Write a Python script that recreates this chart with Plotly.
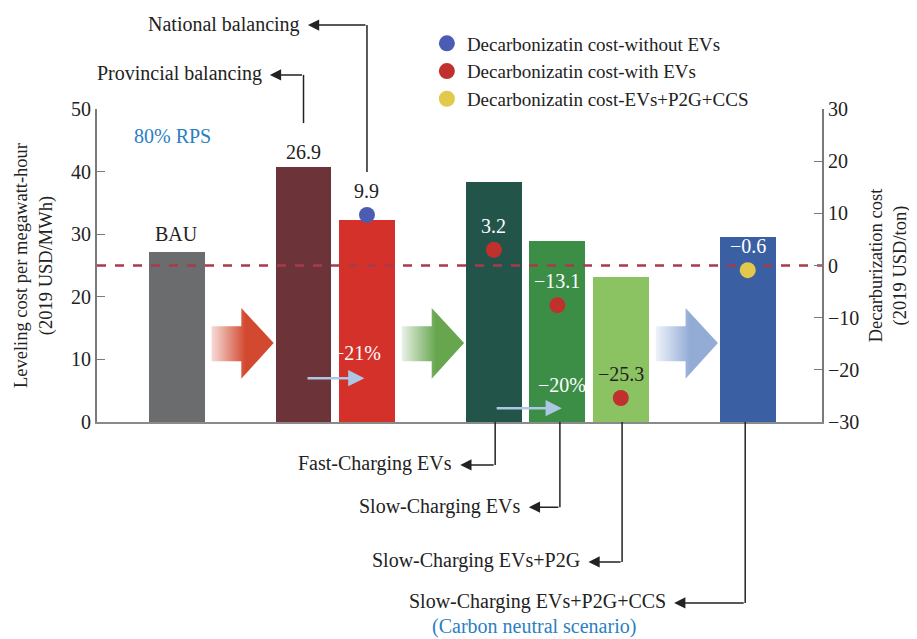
import plotly.graph_objects as go

# ---------------- data ----------------
scenario_groups = [
    ["BAU"],
    ["Provincial balancing", "National balancing"],
    ["Fast-Charging EVs", "Slow-Charging EVs", "Slow-Charging EVs+P2G"],
    ["Slow-Charging EVs+P2G+CCS"],
]
levelized_cost = [27.2, 40.7, 32.3, 38.3, 28.9, 23.2, 29.5]   # 2019 USD/MWh
bar_colors = ["#6b6c6e", "#6c3439", "#d5312b", "#22544a", "#3c8d46", "#8bc262", "#3a5fa2"]

dot_scenarios = ["National balancing", "Fast-Charging EVs", "Slow-Charging EVs",
                 "Slow-Charging EVs+P2G", "Slow-Charging EVs+P2G+CCS"]
dot_values = [9.7, 3.0, -7.6, -25.4, -0.9]                     # 2019 USD/ton
dot_labels = ["9.9", "3.2", "−13.1", "−25.3", "−0.6"]
dot_label_colors = ["#222222", "white", "white", "#222222", "white"]
dot_series = ["without", "with", "with", "with", "ccs"]
series_names = {
    "without": "Decarbonizatin cost-without EVs",
    "with": "Decarbonizatin cost-with EVs",
    "ccs": "Decarbonizatin cost-EVs+P2G+CCS",
}
series_colors = {"without": "#4a5db3", "with": "#c0312d", "ccs": "#e2c94b"}

provincial_label = "26.9"
reduction_labels = ["−21%", "−20%"]

# ---------------- slot layout (one empty slot between groups) ----------------
bar_names, slots, gap_slots = [], [], []
pos = 0
for gi, grp in enumerate(scenario_groups):
    for name in grp:
        bar_names.append(name)
        slots.append(pos)
        pos += 1
    if gi < len(scenario_groups) - 1:
        gap_slots.append(pos)
        pos += 1
slot_of = dict(zip(bar_names, slots))

X_RANGE = [-1.254, 10.17]
FONT = "Liberation Serif"
TXT = "#222222"
FS = 20

fig = go.Figure()

# gradient arrows between groups
arrow_fills = [("#f6dcd8", "#d2492f"), ("#e9f1e7", "#67a64e"), ("#eff3fa", "#93acd6")]
for g, (c0, c1) in zip(gap_slots, arrow_fills):
    xs = [g - 0.45, g + 0.02, g + 0.02, g + 0.53, g + 0.02, g + 0.02, g - 0.45, g - 0.45]
    ys = [15.3, 15.3, 18.2, 12.6, 6.9, 9.7, 9.7, 15.3]
    fig.add_trace(go.Scatter(
        x=xs, y=ys, mode="lines", fill="toself", line=dict(width=0),
        fillgradient=dict(type="horizontal", colorscale=[[0, c0], [0.55, c1], [1, c1]]),
        hoverinfo="skip", showlegend=False))

# bars
fig.add_trace(go.Bar(
    x=slots, y=levelized_cost, width=0.88, marker=dict(color=bar_colors, line=dict(width=0)),
    showlegend=False, hovertext=bar_names))

# dashed zero line of decarbonization cost (=25 on left axis)
fig.add_trace(go.Scatter(
    x=X_RANGE, y=[25, 25], mode="lines",
    line=dict(color="#a63b4c", width=2.5, dash="dash"), hoverinfo="skip", showlegend=False))

# dots per series on right axis
for key in ["without", "with", "ccs"]:
    xs = [slot_of[s] for s, k in zip(dot_scenarios, dot_series) if k == key]
    ys = [v for v, k in zip(dot_values, dot_series) if k == key]
    fig.add_trace(go.Scatter(
        x=xs, y=ys, yaxis="y2", mode="markers", name=series_names[key],
        marker=dict(color=series_colors[key], size=16, line=dict(width=0))))

ann = []
# value labels for dots
for s, v, lab, col in zip(dot_scenarios, dot_values, dot_labels, dot_label_colors):
    ann.append(dict(x=slot_of[s], y=v, yref="y2", text=lab, showarrow=False, yshift=24,
                    font=dict(family=FONT, size=FS, color=col)))
# BAU & provincial labels
ann.append(dict(x=slot_of["BAU"], y=levelized_cost[0], yref="y", text="BAU", showarrow=False,
                yshift=18, font=dict(family=FONT, size=FS, color=TXT)))
ann.append(dict(x=slot_of["Provincial balancing"], y=levelized_cost[1], yref="y",
                text=provincial_label, showarrow=False, yshift=15,
                font=dict(family=FONT, size=FS, color=TXT)))
ann.append(dict(x=-0.06, y=0.914, xref="x", yref="paper", yanchor="middle", text="80% RPS",
                showarrow=False, font=dict(family=FONT, size=FS, color="#2b7fc1")))
# reduction labels and small arrows
for lab, (tx, ty), (x0, x1, ya) in zip(reduction_labels, [(2.85, 11.0), (6.07, 5.9)],
                                       [(2.04, 2.96, 7.0), (5.02, 6.07, 2.2)]):
    ann.append(dict(x=tx, y=ty, text=lab, showarrow=False,
                    font=dict(family=FONT, size=FS, color="white")))
    ann.append(dict(x=x1, y=ya, ax=x0, ay=ya, axref="x", ayref="y", text="", showarrow=True,
                    arrowhead=2, arrowsize=1.3, arrowwidth=2.5, arrowcolor="#adc8e4", standoff=0))

# callouts: (scenario, vertical from, vertical to (paper y), tip x, x nudge)
shapes = []
callouts = [
    ("Provincial balancing", 0.955, 1.109, 1.47, 0.0),
    ("National balancing", 0.799, 1.268, 2.07, 0.0),
    ("Fast-Charging EVs", 0.0, -0.137, 4.47, 0.02),
    ("Slow-Charging EVs", 0.0, -0.272, 5.55, 0.04),
    ("Slow-Charging EVs+P2G", 0.0, -0.447, 6.49, 0.02),
    ("Slow-Charging EVs+P2G+CCS", 0.0, -0.578, 7.84, -0.04),
]
for name, y0, y1, tip, dx in callouts:
    xv = slot_of[name] + dx
    shapes.append(dict(type="line", xref="x", yref="paper", x0=xv, x1=xv, y0=y0, y1=y1,
                       line=dict(color="#222222", width=1.5)))
    ann.append(dict(x=tip, y=y1, xref="x", yref="paper", ax=xv, ay=0, axref="x", ayref="pixel",
                    text="", showarrow=True, arrowhead=2, arrowsize=1.5, arrowwidth=1.5,
                    arrowcolor="#222222", standoff=0))
    ann.append(dict(x=tip, y=y1, xref="x", yref="paper", text=name, showarrow=False,
                    xanchor="right", yanchor="middle", xshift=-6, yshift=1,
                    font=dict(family=FONT, size=FS, color=TXT)))
ann.append(dict(x=5.63, y=-0.652, xref="x", yref="paper", yanchor="middle",
                text="(Carbon neutral scenario)", showarrow=False,
                font=dict(family=FONT, size=FS, color="#2b7fc1")))

# page body has an 8px margin: offset the figure margins accordingly
fig.update_layout(
    width=917, height=639,
    margin=dict(l=85, r=103, t=101, b=225),
    paper_bgcolor="white", plot_bgcolor="white",
    font=dict(family=FONT, size=FS, color=TXT),
    xaxis=dict(range=X_RANGE, showticklabels=False, ticks="", showgrid=False, zeroline=False,
               showline=True, linecolor="#8a8a8a", linewidth=2),
    yaxis=dict(range=[0, 50], dtick=10, ticks="inside", ticklen=8, tickcolor="#7a7a7a",
               showgrid=False, zeroline=False, showline=True, linecolor="#7a7a7a", linewidth=2,
               tickfont=dict(family=FONT, size=FS, color=TXT),
               title=dict(text="Leveling cost per megawatt-hour<br>(2019 USD/MWh)",
                          font=dict(family=FONT, size=18.5, color=TXT), standoff=14)),
    yaxis2=dict(range=[-30, 30], dtick=10, overlaying="y", side="right", ticks="inside",
                ticklen=8, tickcolor="#7a7a7a", showgrid=False, zeroline=False, showline=True,
                linecolor="#7a7a7a", linewidth=2,
                tickfont=dict(family=FONT, size=FS, color=TXT),
                title=dict(text="Decarburization cost<br>(2019 USD/ton)",
                           font=dict(family=FONT, size=18.5, color=TXT), standoff=11)),
    legend=dict(x=0.455, y=1.27, xanchor="left", yanchor="top", bgcolor="rgba(0,0,0,0)",
                font=dict(family=FONT, size=19, color=TXT), itemsizing="trace",
                tracegroupgap=0),
    shapes=shapes, annotations=ann,
    bargap=0,
)
fig.write_html("out.html")
